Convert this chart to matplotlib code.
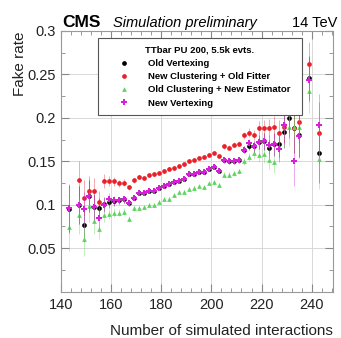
import numpy as np
import matplotlib
matplotlib.use("Agg")
import matplotlib.pyplot as plt
from matplotlib.lines import Line2D
from matplotlib.ticker import MultipleLocator

plt.rcParams['font.family'] = ['Liberation Sans', 'DejaVu Sans']

# number of simulated interactions (bin centres)
n_int = [143, 147, 149, 151, 153, 155, 157, 159, 161, 163, 165, 167, 169, 171, 173, 175,
         177, 179, 181, 183, 185, 187, 189, 191, 193, 195, 197, 199, 201, 203, 205, 207,
         209, 211, 213, 215, 217, 219, 221, 223, 225, 227, 229, 231, 233, 235, 239, 243]

old_vtx = [0.095, 0.100, 0.0765, 0.110, 0.097, 0.0957, 0.101, 0.1026, 0.104, 0.105, 0.106, 0.102,
           0.108, 0.113, 0.113, 0.1155, 0.116, 0.1187, 0.121, 0.124, 0.126, 0.127, 0.129, 0.1355,
           0.135, 0.138, 0.138, 0.1405, 0.1435, 0.139, 0.151, 0.150, 0.150, 0.151, 0.163, 0.1675,
           0.167, 0.172, 0.173, 0.1647, 0.1695, 0.1695, 0.1838, 0.200, 0.188, 0.180, 0.246, 0.160]

new_clus_old_fit = [np.nan, 0.128, 0.108, 0.1155, 0.1155, 0.1035, 0.1275, 0.1275, 0.127, 0.1245,
                    0.1255, 0.120, 0.128, 0.132, 0.131, 0.134, 0.135, 0.137, 0.139, 0.1415, 0.1425,
                    0.144, 0.147, 0.150, 0.152, 0.154, 0.155, 0.157, 0.160, 0.156, 0.167, 0.1655,
                    0.169, 0.170, 0.180, 0.183, 0.180, 0.188, 0.188, 0.188, 0.1895, 0.182, 0.190,
                    0.207, 0.188, 0.195, 0.2625, 0.183]

old_clus_new_est = [0.0745, 0.088, 0.061, 0.098, 0.0815, 0.0725, 0.088, 0.089, 0.0906, 0.0906,
                    0.092, 0.0835, 0.0957, 0.0965, 0.0975, 0.0995, 0.0995, 0.1033, 0.106, 0.107,
                    0.111, 0.1145, 0.115, 0.1185, 0.119, 0.121, 0.120, 0.1245, 0.126, 0.123,
                    0.1345, 0.1345, 0.136, 0.1385, 0.150, 0.155, 0.159, 0.157, 0.158, 0.152, 0.149,
                    0.1665, 0.194, 0.190, 0.190, 0.190, 0.231, 0.1525]

new_vtx = [0.096, 0.100, 0.0945, 0.110, 0.0975, 0.085, 0.100, 0.107, 0.105, 0.105, 0.106, 0.102,
           0.108, 0.113, 0.113, 0.1155, 0.116, 0.1187, 0.121, 0.124, 0.126, 0.127, 0.129, 0.1355,
           0.135, 0.138, 0.138, 0.1405, 0.1435, 0.139, 0.151, 0.150, 0.150, 0.151, 0.1635, 0.171,
           0.167, 0.172, 0.173, 0.169, 0.1695, 0.164, 0.1915, 0.205, 0.150, 0.179, 0.2435, 0.192]

# statistical uncertainty per bin
err = [0.028, 0.022, 0.020, 0.018, 0.015, 0.012, 0.008, 0.006, 0.005, 0.004, 0.004, 0.003,
       0.003, 0.002, 0.002, 0.002, 0.002, 0.002, 0.002, 0.002, 0.002, 0.002, 0.002, 0.002,
       0.002, 0.002, 0.002, 0.002, 0.002, 0.002, 0.003, 0.003, 0.003, 0.003, 0.004, 0.005,
       0.006, 0.008, 0.010, 0.011, 0.013, 0.015, 0.019, 0.023, 0.028, 0.025, 0.025, 0.035]

labels = ['Old Vertexing', 'New Clustering + Old Fitter',
          'Old Clustering + New Estimator', 'New Vertexing']
colors = ['black', '#e8202a', '#5fd35f', '#d81ed8']
markers = ['o', 'o', '^', 'P']
sizes = [3.4, 3.4, 3.4, 4.4]
series = [old_vtx, new_clus_old_fit, old_clus_new_est, new_vtx]

fig = plt.figure(figsize=(3.41, 3.38), dpi=100)
ax = fig.add_axes([61 / 341, 1 - 291.5 / 338, 272 / 341, 260.5 / 338])

handles = []
for vals, lab, c, m, s in zip(series, labels, colors, markers, sizes):
    ax.errorbar(n_int, vals, yerr=err, fmt='none', ecolor=c, elinewidth=0.6, alpha=0.45)
    ax.plot(n_int, vals, ls='none', marker=m, color=c, ms=s, mew=0)
    handles.append(Line2D([], [], ls='none', marker=m, color=c, ms=s, mew=0))

ax.set_xlim(140, 248.5)
ax.set_ylim(0, 0.3)
ax.xaxis.set_major_locator(MultipleLocator(20))
ax.xaxis.set_minor_locator(MultipleLocator(4))
ax.yaxis.set_major_locator(MultipleLocator(0.05))
ax.yaxis.set_minor_locator(MultipleLocator(0.025))
ax.set_yticks([0.05, 0.1, 0.15, 0.2, 0.25, 0.3])
ax.set_yticklabels(['0.05', '0.1', '0.15', '0.2', '0.25', '0.3'])
ax.grid(True, which='major', color='#d8d8d8', lw=0.7)
ax.set_axisbelow(True)
ax.tick_params(which='both', direction='in', top=True, right=True, colors='#888888',
               labelcolor='#222222', labelsize=10.5)
ax.tick_params(which='major', length=6)
ax.tick_params(which='minor', length=3)
ax.tick_params(axis='x', pad=5)
for sp in ax.spines.values():
    sp.set_color('#999999')
    sp.set_linewidth(0.8)

ax.set_xlabel('Number of simulated interactions', fontsize=11, loc='right', color='#222222')
ax.set_ylabel('Fake rate', fontsize=11, loc='top', color='#222222')
ax.xaxis.set_label_coords(1.0, -0.125)
ax.yaxis.set_label_coords(-0.125, 1.0)

fig.text(62 / 341, 1 - 27 / 338, 'CMS', fontsize=12.5, fontweight='bold', ha='left', va='baseline')
fig.text(113 / 341, 1 - 27 / 338, 'Simulation preliminary', fontsize=10.5, style='italic',
         ha='left', va='baseline')
fig.text(337 / 341, 1 - 27 / 338, '14 TeV', fontsize=10.5, ha='right', va='baseline')

leg = ax.legend(handles, labels, title='TTbar PU 200, 5.5k evts.', loc='upper left',
                bbox_to_anchor=(0.136, 0.678, 0.75, 0.295), mode='expand',
                prop={'size': 6.8, 'weight': 'bold'}, title_fontproperties={'size': 6.8, 'weight': 'bold'},
                fancybox=False, edgecolor='#555555', framealpha=1, borderpad=0.8,
                labelspacing=0.45, handletextpad=0.5, handlelength=4.0, borderaxespad=0)
leg.get_frame().set_linewidth(0.8)

fig.savefig('out.png', dpi=100)
